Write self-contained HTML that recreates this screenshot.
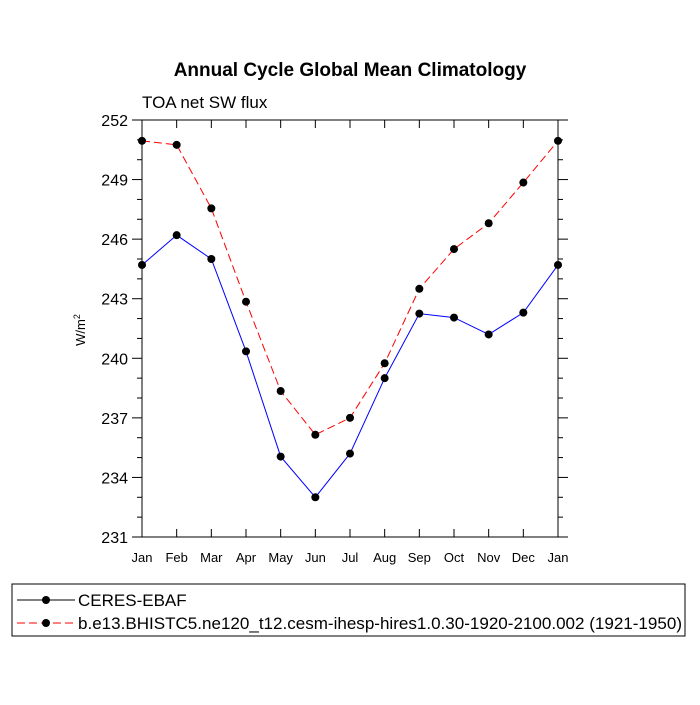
<!DOCTYPE html>
<html><head><meta charset="utf-8"><style>
body{margin:0;background:#fff;}
svg text{font-family:"Liberation Sans",sans-serif;}
</style></head><body>
<svg id="chart" width="700" height="700">
<text x="350" y="76" text-anchor="middle" font-size="19" font-weight="bold">Annual Cycle Global Mean Climatology</text>
<text x="142" y="108" font-size="17">TOA net SW flux</text>
<text transform="translate(85,330) rotate(-90)" text-anchor="middle" font-size="13">W/m<tspan dy="-5" font-size="9">2</tspan></text>
<g id="axes"></g>
<g id="series"></g>
<g>
<rect x="12" y="584" width="673" height="52" fill="none" stroke="#000" stroke-width="1"/>
<line x1="17" y1="600" x2="75" y2="600" stroke="#000"/><circle cx="46" cy="600" r="4"/>
<text x="78" y="606" font-size="17">CERES-EBAF</text>
<line x1="17" y1="623" x2="75" y2="623" stroke="#f00" stroke-dasharray="8,4"/><circle cx="46" cy="623" r="4"/>
<text x="78" y="629" font-size="17" textLength="604" lengthAdjust="spacingAndGlyphs">b.e13.BHISTC5.ne120_t12.cesm-ihesp-hires1.0.30-1920-2100.002 (1921-1950)</text>
</g>
</svg>
<script>
const months=["Jan","Feb","Mar","Apr","May","Jun","Jul","Aug","Sep","Oct","Nov","Dec","Jan"];
const ceres=[244.7,246.2,245.0,240.35,235.05,233.0,235.2,239.0,242.25,242.05,241.2,242.3,244.7];
const model=[250.95,250.75,247.55,242.85,238.35,236.15,237.0,239.75,243.5,245.5,246.8,248.85,250.95];
const yTicks=[231,234,237,240,243,246,249,252];
const L=142,R=558,T=120,B=537,yMin=231,yMax=252;
const NS="http://www.w3.org/2000/svg";
const xs=i=>L+(R-L)*i/(months.length-1);
const ys=v=>B-(B-T)*(v-yMin)/(yMax-yMin);
function mk(t,a,p){const e=document.createElementNS(NS,t);for(const k in a)e.setAttribute(k,a[k]);p.appendChild(e);return e;}
const ax=document.getElementById('axes');
const fr=mk('rect',{x:L,y:T,width:R-L,height:B-T,fill:'none',stroke:'#000','stroke-width':1},ax);


for(let v=yMin;v<=yMax;v++){
  const major=yTicks.includes(v);const len=major?10:5;const y=ys(v);
  mk('line',{x1:L-len,y1:y,x2:L,y2:y,stroke:'#000'},ax);
  mk('line',{x1:R,y1:y,x2:R+len,y2:y,stroke:'#000'},ax);
  if(major){const t=mk('text',{x:L-14,y:y+6,'text-anchor':'end','font-size':16},ax);t.textContent=v;
  
  }
}
months.forEach((m,i)=>{const x=xs(i);
  mk('line',{x1:x,y1:B,x2:x,y2:B-8,stroke:'#000'},ax);
  mk('line',{x1:x,y1:T,x2:x,y2:T+8,stroke:'#000'},ax);
  const t=mk('text',{x:x,y:B+25,'text-anchor':'middle','font-size':13},ax);t.textContent=m;
  
  
});
const sg=document.getElementById('series');
function draw(vals,color,dash,name){
  const pl=mk('polyline',{points:vals.map((v,i)=>xs(i)+','+ys(v)).join(' '),fill:'none',stroke:color,'stroke-width':1,'stroke-dasharray':dash},sg);
  
  
  vals.forEach((v,i)=>{const c=mk('circle',{cx:xs(i),cy:ys(v),r:4,fill:'#000'},sg);
    
    });
}
draw(model,'#f00','8,4','model');
draw(ceres,'#00f','none','ceres');
</script>
</body></html>
